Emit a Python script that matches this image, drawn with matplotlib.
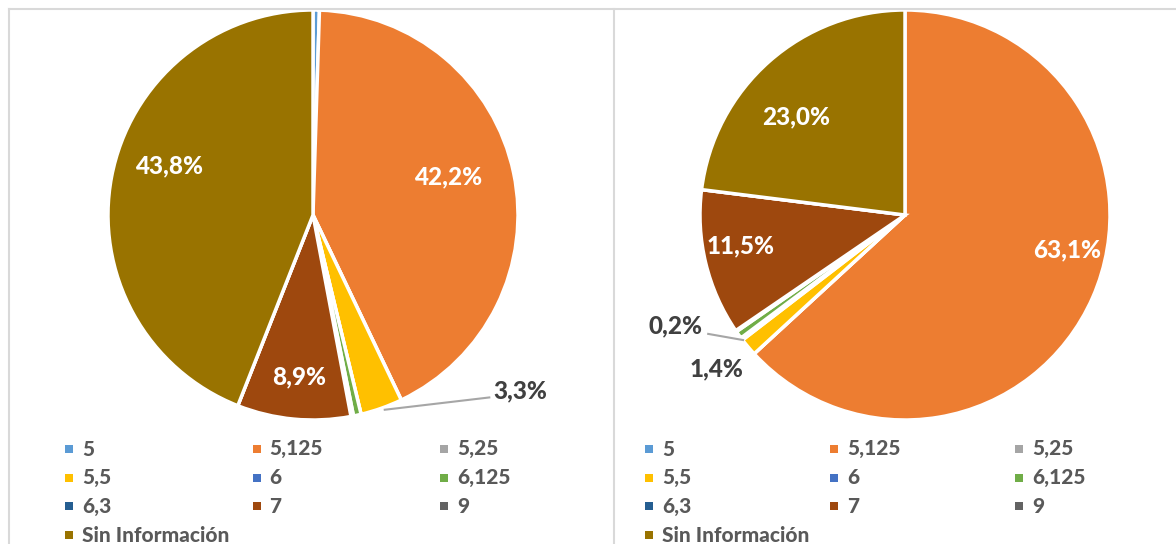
import matplotlib
matplotlib.use("Agg")
import matplotlib.pyplot as plt
from matplotlib.lines import Line2D
from matplotlib.patches import Rectangle

# Categories and colours (Excel palette)
categories = ["5", "5,125", "5,25", "5,5", "6", "6,125", "6,3", "7", "9", "Sin Información"]
colors = ["#5B9BD5", "#ED7D31", "#A5A5A5", "#FFC000", "#4472C4",
          "#70AD47", "#255E91", "#9E480E", "#636363", "#997300"]

# Percentages
left_values = [0.5, 42.2, 0.0, 3.3, 0.0, 0.6, 0.2, 8.9, 0.0, 43.8]
right_values = [0.0, 63.1, 0.0, 1.4, 0.2, 0.6, 0.1, 11.5, 0.0, 23.0]

# which slices get a label: index -> (x, y, inside?, leader line)
left_labels = {
    1: (0.66, 0.185, True, None),
    3: (1.01, -0.86, False, (0.35, -0.95, 0.86, -0.89)),
    7: (-0.07, -0.79, True, None),
    9: (-0.70, 0.24, True, None),
}
right_labels = {
    1: (0.79, -0.17, True, None),
    3: (-0.92, -0.75, False, None),
    4: (-1.12, -0.54, False, (-0.96, -0.58, -0.79, -0.61)),
    7: (-0.80, -0.15, True, None),
    9: (-0.53, 0.48, True, None),
}

W, H = 1176, 544
R = 205  # pie radius in pixels
fig = plt.figure(figsize=(W / 100, H / 100), dpi=100)
fig.patch.set_facecolor("white")
FONT = "Lato"
WEIGHT = 900


def pct(v):
    return f"{v:.1f}".replace(".", ",") + "%"


def draw_pie(cx, cy, values, labels):
    lim = 1.5
    size = 2 * lim * R
    ax = fig.add_axes([(cx - size / 2) / W, (H - cy - size / 2) / H, size / W, size / H])
    ax.pie(values, colors=colors, startangle=90, counterclock=False, radius=1,
           wedgeprops=dict(edgecolor="white", linewidth=2.5))
    ax.set_xlim(-lim, lim)
    ax.set_ylim(-lim, lim)
    ax.set_aspect("equal")
    ax.axis("off")
    for i, (x, y, inside, leader) in labels.items():
        ax.text(x, y, pct(values[i]), ha="center", va="center",
                fontsize=17.5, fontweight=WEIGHT, family=FONT,
                color="white" if inside else "#404040")
        if leader:
            ax.plot([leader[0], leader[2]], [leader[1], leader[3]],
                    color="#A6A6A6", lw=1.5)


def draw_legend(x0, col_step):
    rows = [categories[i:i + 3] for i in range(0, len(categories), 3)]
    k = 0
    for r, row in enumerate(rows):
        y = 449 + r * 28.7
        for c, name in enumerate(row):
            x = x0 + c * col_step
            fig.add_artist(Rectangle((x / W, (H - y - 4) / H), 8 / W, 8 / H,
                                     transform=fig.transFigure,
                                     facecolor=colors[k], edgecolor="none"))
            fig.text((x + 17) / W, (H - y) / H, name, ha="left", va="center",
                     fontsize=15, fontweight=WEIGHT, family=FONT, color="#595959")
            k += 1


draw_pie(313, 215, left_values, left_labels)
draw_pie(905, 215, right_values, right_labels)
draw_legend(65, 187.5)
draw_legend(645, 185)

# panel borders
border = "#D9D9D9"
fig.add_artist(Line2D([9 / W, 1], [1 - 9 / H, 1 - 9 / H], transform=fig.transFigure, color=border, lw=1.5))
fig.add_artist(Line2D([9 / W, 9 / W], [0, 1 - 9 / H], transform=fig.transFigure, color=border, lw=1.5))
fig.add_artist(Line2D([614 / W, 614 / W], [0, 1 - 9 / H], transform=fig.transFigure, color=border, lw=1.5))

plt.savefig("out.png", dpi=100)
